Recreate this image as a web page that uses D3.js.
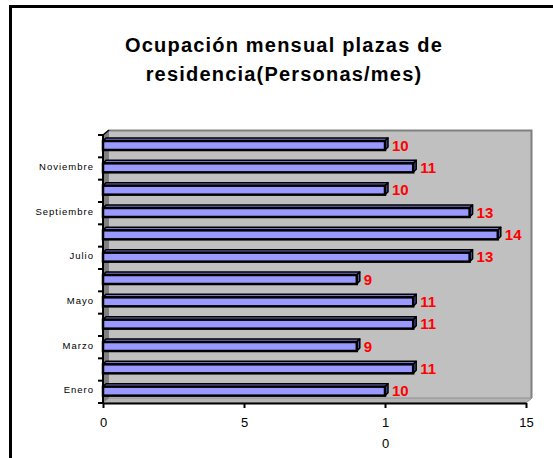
<!DOCTYPE html>
<html>
<head>
<meta charset="utf-8">
<script src="https://cdn.jsdelivr.net/npm/d3@7"></script>
<style>
  body { margin: 0; background: #fff; }
  text { font-family: "Liberation Sans", Arial, sans-serif; }
</style>
</head>
<body>
<div id="chart"></div>
<script>
var months = ['Enero', 'Febrero', 'Marzo', 'Abril', 'Mayo', 'Junio',
    'Julio', 'Agosto', 'Septiembre', 'Octubre', 'Noviembre', 'Diciembre'];
var values = [10, 11, 9, 11, 11, 9, 13, 14, 13, 10, 11, 10];
var xTicks = [0, 5, 10, 15];

var width = 553, height = 458;
var depth = 6;   // 3d wall depth
var bd = 3;      // 3d bar depth

var svg = d3.select('#chart').append('svg')
    .attr('width', width)
    .attr('height', height);

// frame
svg.append('path')
    .attr('d', 'M10.5,458 V6.5 H553')
    .attr('fill', 'none')
    .attr('stroke', '#000')
    .attr('stroke-width', 3);

// title
var title = svg.append('text')
    .attr('text-anchor', 'middle')
    .attr('font-size', '20px')
    .attr('font-weight', 'bold')
    .attr('letter-spacing', '1.2px');
title.append('tspan').attr('x', 284).attr('y', 52).text('Ocupación mensual plazas de');
title.append('tspan').attr('x', 284).attr('y', 81).text('residencia(Personas/mes)');

var x = d3.scaleLinear()
    .domain([0, 15])
    .range([103, 526]);

var y = d3.scaleBand()
    .domain(months)
    .range([403, 135]);

var x0 = x.range()[0], x1 = x.range()[1];
var yTop = y.range()[1], yBot = y.range()[0];

// walls
svg.append('polygon')
    .attr('points', [[x0, yTop], [x0 + depth, yTop - depth + 1], [x0 + depth, yBot - depth + 1], [x0, yBot]].join(' '))
    .attr('fill', '#808080');
svg.append('rect')
    .attr('x', x0 + depth)
    .attr('y', yTop - depth + 1)
    .attr('width', x1 - x0)
    .attr('height', yBot - yTop)
    .attr('fill', '#c0c0c0');
svg.append('path')
    .attr('d', 'M' + (x0 + depth) + ',' + (yTop - depth + 1.5) + ' H' + (x1 + depth - 0.5) + ' V' + (yBot - depth + 1))
    .attr('fill', 'none')
    .attr('stroke', '#808080')
    .attr('stroke-width', 2);
svg.append('polygon')
    .attr('points', [[x0, yBot], [x0 + depth, yBot - depth + 1], [x1 + depth, yBot - depth + 1], [x1, yBot]].join(' '))
    .attr('fill', '#b4b4b4')
    .attr('stroke', '#909090')
    .attr('stroke-width', 1);
svg.append('line')
    .attr('x1', x0).attr('y1', yTop)
    .attr('x2', x0 + depth).attr('y2', yTop - depth + 1)
    .attr('stroke', '#000').attr('stroke-width', 1.5);

// bars
var bh = 9;
var bars = svg.selectAll('.bar')
    .data(months)
    .enter()
    .append('g')
    .attr('class', 'bar');

bars.append('polygon')
    .attr('points', function(d, i) {
        var by = y(d) + 6, bx = x(values[i]);
        return [[x0, by], [x0 + bd, by - bd], [bx + bd, by - bd], [bx, by]].join(' ');
    })
    .attr('fill', '#7777cc')
    .attr('stroke', '#000')
    .attr('stroke-width', 1.5)
    .attr('stroke-linejoin', 'round');

bars.append('polygon')
    .attr('points', function(d, i) {
        var by = y(d) + 6, bx = x(values[i]);
        return [[bx, by], [bx + bd, by - bd], [bx + bd, by + bh - bd], [bx, by + bh]].join(' ');
    })
    .attr('fill', '#5555aa')
    .attr('stroke', '#000')
    .attr('stroke-width', 1.5)
    .attr('stroke-linejoin', 'round');

bars.append('rect')
    .attr('x', x0)
    .attr('y', function(d) { return y(d) + 6; })
    .attr('width', function(d, i) { return x(values[i]) - x0; })
    .attr('height', bh)
    .attr('fill', '#9999ff')
    .attr('stroke', '#000')
    .attr('stroke-width', 2.5);

bars.append('text')
    .attr('x', function(d, i) { return x(values[i]) + 7; })
    .attr('y', function(d) { return y(d) + 6 + bh / 2; })
    .attr('dy', '0.35em')
    .attr('fill', '#ff0000')
    .attr('font-size', '15px')
    .attr('font-weight', 'bold')
    .text(function(d, i) { return values[i]; });

// y axis
var yAxis = svg.append('g')
    .attr('transform', 'translate(' + x0 + ',0)')
    .call(d3.axisLeft(y)
        .tickSize(0)
        .tickPadding(9)
        .tickFormat(function(d, i) { return i % 2 === 0 ? d : ''; }));
yAxis.select('.domain').remove();
yAxis.selectAll('text')
    .attr('font-family', '"Liberation Sans", Arial, sans-serif')
    .attr('font-size', '9.5px')
    .attr('letter-spacing', '1px')
    .attr('dy', '0.15em')
    .attr('fill', '#000');

svg.append('line')
    .attr('x1', x0).attr('y1', yTop)
    .attr('x2', x0).attr('y2', yBot + 1)
    .attr('stroke', '#000').attr('stroke-width', 2);
svg.selectAll('.ytick')
    .data(months.concat(['end']))
    .enter()
    .append('line')
    .attr('class', 'ytick')
    .attr('x1', x0 - 5).attr('x2', x0)
    .attr('y1', function(d) { return d === 'end' ? yTop : y(d) + y.bandwidth(); })
    .attr('y2', function(d) { return d === 'end' ? yTop : y(d) + y.bandwidth(); })
    .attr('stroke', '#000').attr('stroke-width', 2);

// x axis
var xAxis = svg.append('g')
    .attr('transform', 'translate(0,' + yBot + ')')
    .call(d3.axisBottom(x)
        .tickValues(xTicks)
        .tickSize(5)
        .tickSizeOuter(0)
        .tickPadding(10));
xAxis.select('.domain').attr('stroke-width', 2);
xAxis.selectAll('.tick line').attr('stroke-width', 2);
xAxis.selectAll('text')
    .attr('font-family', '"Liberation Sans", Arial, sans-serif')
    .attr('font-size', '13px')
    .attr('fill', '#000')
    .each(function(d) {
        var s = String(d);
        if (d === 10) {
            var t = d3.select(this).text('');
            t.append('tspan').attr('x', 0).attr('dy', '0.71em').text(s[0]);
            t.append('tspan').attr('x', 0).attr('dy', '1.6em').text(s[1]);
            t.attr('dy', null);
        }
    });
</script>
</body>
</html>
